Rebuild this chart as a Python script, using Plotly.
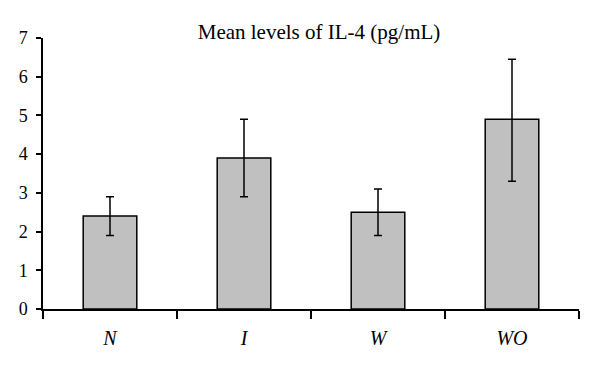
import plotly.graph_objects as go

categories = ["N", "I", "W", "WO"]
means = [2.4, 3.9, 2.5, 4.9]
err_plus = [0.5, 1.0, 0.6, 1.55]
err_minus = [0.5, 1.0, 0.6, 1.6]
y_ticks = [0, 1, 2, 3, 4, 5, 6, 7]

font_family = "Liberation Serif"

# the page body adds an 8px offset; margins below compensate for it
fig = go.Figure()
fig.add_trace(go.Bar(
    x=categories,
    y=means,
    width=0.4,
    marker=dict(color="#c0c0c0", line=dict(color="black", width=1.5)),
    error_y=dict(type="data", symmetric=False, array=err_plus, arrayminus=err_minus,
                 color="black", thickness=1.5, width=4),
))

fig.update_layout(
    width=600, height=372,
    margin=dict(l=35, r=29, t=30, b=71, autoexpand=False),
    plot_bgcolor="white", paper_bgcolor="white",
    showlegend=False,
    title=dict(text="Mean levels of IL-4 (pg/mL)", x=311 / 600, xanchor="center",
               xref="container",
               y=1 - 24 / 372, yanchor="middle", yref="container",
               font=dict(family=font_family, size=21, color="black")),
    font=dict(family=font_family, color="black"),
)
fig.update_xaxes(
    automargin=False,
    showline=True, linecolor="black", linewidth=1.5,
    ticks="outside", tickson="boundaries", ticklen=8, tickwidth=1.5, tickcolor="black",
    tickfont=dict(family=font_family, size=20, color="black", style="italic"),
    ticklabelstandoff=10,
    showgrid=False, zeroline=False,
)
fig.update_yaxes(
    automargin=False,
    range=[0, 7], tickvals=y_ticks,
    showline=True, linecolor="black", linewidth=1.5,
    ticks="outside", ticklen=5, tickwidth=1.5, tickcolor="black",
    tickfont=dict(family=font_family, size=18, color="black"),
    ticklabelstandoff=5,
    showgrid=False, zeroline=False,
)

fig.write_html("out.html")
